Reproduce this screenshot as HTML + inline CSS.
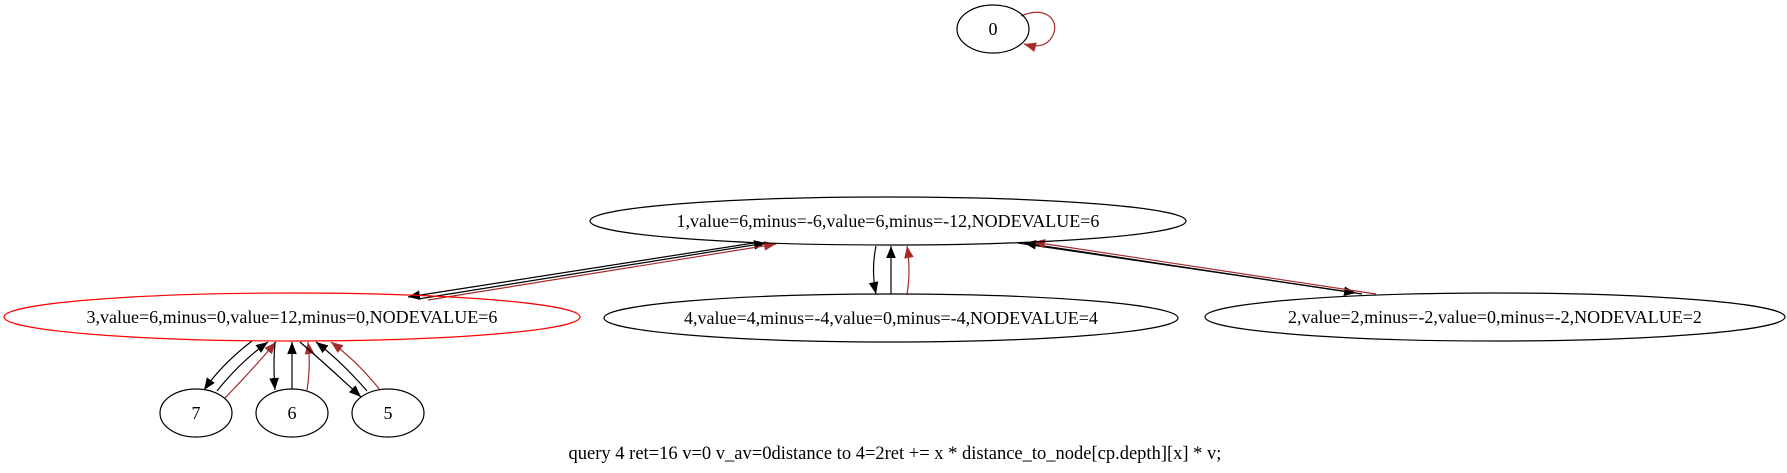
<!DOCTYPE html>
<html><head><meta charset="utf-8"><style>
html,body{margin:0;padding:0;background:#fff}
svg{display:block}
text{font-family:"Liberation Serif",serif;font-size:18px;text-anchor:middle}
</style></head><body>
<svg width="1787" height="473" viewBox="0 0 1787 473">
<defs>
<marker id="ab" viewBox="0 0 10 10" refX="10" refY="5" markerWidth="12" markerHeight="12" markerUnits="userSpaceOnUse" orient="auto"><path d="M0,1 L10,5 L0,9 z" fill="#000"/></marker>
<marker id="ar" viewBox="0 0 10 10" refX="10" refY="5" markerWidth="12" markerHeight="12" markerUnits="userSpaceOnUse" orient="auto"><path d="M0,1 L10,5 L0,9 z" fill="#a52a2a"/></marker>
</defs>
<g fill="none" stroke-width="1.2">
<path d="M760,242 L408,297" stroke="#000" marker-end="url(#ab)"/>
<path d="M418,299 L766,243" stroke="#000" marker-end="url(#ab)"/>
<path d="M428,300 L776,244" stroke="#a52a2a" marker-end="url(#ar)"/>
<path d="M876,246 Q871,270 876,294" stroke="#000" marker-end="url(#ab)"/>
<path d="M891,294 L891,246" stroke="#000" marker-end="url(#ab)"/>
<path d="M907,294 Q911,270 907,246" stroke="#a52a2a" marker-end="url(#ar)"/>
<path d="M1018,243 L1356,293" stroke="#000" marker-end="url(#ab)"/>
<path d="M1362,294 L1024,243" stroke="#000" marker-end="url(#ab)"/>
<path d="M1376,294 L1033,242" stroke="#a52a2a" marker-end="url(#ar)"/>
<path d="M252,341 Q222,364 204,390" stroke="#000" marker-end="url(#ab)"/>
<path d="M217,391 Q240,362 268,342" stroke="#000" marker-end="url(#ab)"/>
<path d="M225,398 Q252,370 276,342" stroke="#a52a2a" marker-end="url(#ar)"/>
<path d="M275,342 Q273,365 275,390" stroke="#000" marker-end="url(#ab)"/>
<path d="M292,389 L292,342" stroke="#000" marker-end="url(#ab)"/>
<path d="M307,390 Q311,365 308,342" stroke="#a52a2a" marker-end="url(#ar)"/>
<path d="M300,342 Q330,368 361,397" stroke="#000" marker-end="url(#ab)"/>
<path d="M367,391 Q342,362 316,342" stroke="#000" marker-end="url(#ab)"/>
<path d="M380,390 Q358,362 331,342" stroke="#a52a2a" marker-end="url(#ar)"/>
<path d="M1021,16 C1045,5 1060,20 1053,35 C1048,46 1038,48 1024,44" stroke="#a52a2a" marker-end="url(#ar)"/>
</g>
<g fill="none" stroke="#000" stroke-width="1.2">
<ellipse cx="993" cy="29" rx="36" ry="24"/>
<ellipse cx="888" cy="221" rx="298" ry="24"/>
<ellipse cx="292" cy="317" rx="288" ry="24" stroke="#ff0000"/>
<ellipse cx="891" cy="318" rx="287" ry="24"/>
<ellipse cx="1495" cy="317" rx="290" ry="24"/>
<ellipse cx="196" cy="413" rx="36" ry="24"/>
<ellipse cx="292" cy="413" rx="36" ry="24"/>
<ellipse cx="388" cy="413" rx="36" ry="24"/>
</g>
<text x="993" y="35">0</text>
<text x="888" y="227">1,value=6,minus=-6,value=6,minus=-12,NODEVALUE=6</text>
<text x="292" y="323">3,value=6,minus=0,value=12,minus=0,NODEVALUE=6</text>
<text x="891" y="324">4,value=4,minus=-4,value=0,minus=-4,NODEVALUE=4</text>
<text x="1495" y="323">2,value=2,minus=-2,value=0,minus=-2,NODEVALUE=2</text>
<text x="196" y="419">7</text>
<text x="292" y="419">6</text>
<text x="388" y="419">5</text>
<text x="895" y="459" style="font-size:18.5px">query 4 ret=16 v=0 v_av=0distance to 4=2ret += x * distance_to_node[cp.depth][x] * v;</text>
</svg>
</body></html>
